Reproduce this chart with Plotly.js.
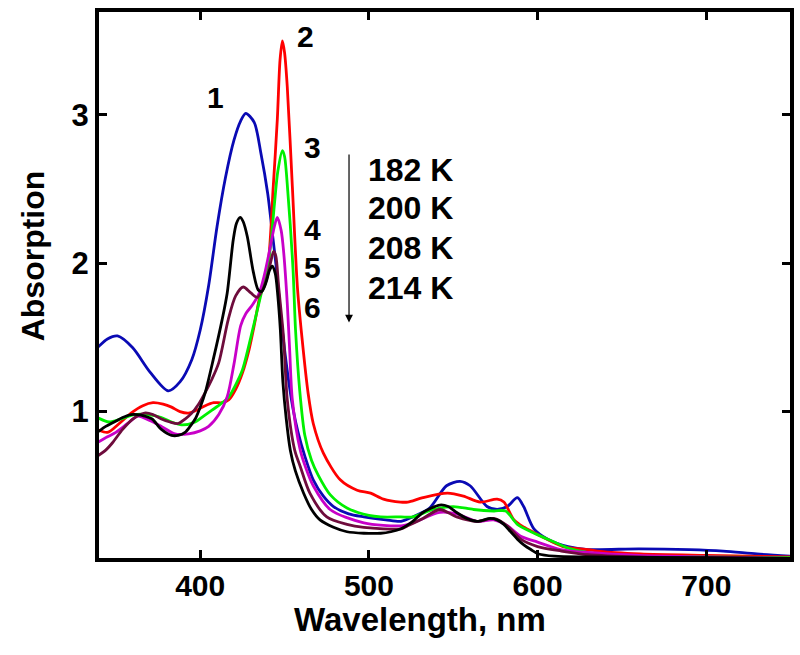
<!DOCTYPE html>
<html>
<head>
<meta charset="utf-8">
<script src="https://cdn.plot.ly/plotly-3.0.1.min.js"></script>
<style>html,body{margin:0;padding:0;background:#fff;}#chart{width:800px;height:655px;}</style>
</head>
<body>
<div id="chart"></div>
<script>
// Curve 1 (blue)
const wl1 = [339,345,351,360,370,381,388,395,400,405,410,415,420,424,427,432,436,440,443,445,448,452,455,458,462,467,473,479,488,497,510,519,526,536,546,554,560,570,576,582,588,591.7,597.8,606,618,630,660,690,710,730,750];
const abs1 = [1.43,1.49,1.51,1.43,1.27,1.14,1.20,1.35,1.55,1.85,2.25,2.58,2.83,2.96,3.01,2.95,2.74,2.47,2.18,1.98,1.62,1.24,1.02,0.86,0.70,0.54,0.43,0.36,0.31,0.29,0.27,0.26,0.29,0.35,0.50,0.53,0.50,0.36,0.34,0.36,0.42,0.36,0.21,0.14,0.09,0.07,0.075,0.07,0.06,0.04,0.025];
// Curve 2 (red)
const wl2 = [339,345,352,359,366,372,378,383,388,393,398,403,408,413,417,421,425,429,432,435.6,439.8,443.3,445.7,447.3,448.7,450,451.6,454.6,457.6,460.3,464,467,473,483,493,501,508.6,518.7,523,532,546.6,556,566,576,580,586,592,602,615,630,637,661,700,750];
const abs2 = [0.88,0.86,0.92,0.99,1.04,1.06,1.05,1.03,1.00,0.99,1.01,1.04,1.06,1.06,1.08,1.15,1.26,1.42,1.58,1.79,1.95,2.52,2.97,3.37,3.50,3.42,3.19,2.52,1.84,1.50,1.12,0.92,0.72,0.54,0.47,0.45,0.41,0.39,0.39,0.42,0.45,0.43,0.39,0.41,0.39,0.27,0.22,0.16,0.09,0.07,0.057,0.04,0.03,0.02];
// Curve 3 (green)
const wl3 = [339,346,353,361,369,377,383,389,397,402,407,412,417,421,425,430,435.6,438,440,442,444,446,448.7,450,452,455,456.5,459,462,466,470,477,487,500,507,519,526,538,550,562,574,581,588,596,606,618,630,645,700,750];
const abs3 = [0.96,0.93,0.95,0.98,0.98,0.96,0.93,0.91,0.93,0.97,1.01,1.05,1.10,1.18,1.28,1.50,1.77,1.88,1.98,2.15,2.40,2.62,2.76,2.72,2.47,1.96,1.55,1.14,0.84,0.67,0.57,0.44,0.35,0.30,0.29,0.29,0.29,0.34,0.36,0.34,0.33,0.33,0.24,0.19,0.14,0.08,0.05,0.03,0.02,0.015];
// Curve 4 (magenta)
const wl4 = [339,345,350,357,363,370,377,385,393,400,405,411,416,420,424,427,431,435,438,441,444,445.7,448,449.5,451.6,453,454.6,459.3,462.3,467,477,497,519,526,542,552,564,574,582,590,600,613.6,630,660,700,750];
const abs4 = [0.79,0.83,0.86,0.92,0.97,0.94,0.90,0.85,0.85,0.87,0.90,0.98,1.10,1.32,1.58,1.66,1.72,1.80,1.92,2.08,2.25,2.31,2.22,2.07,1.73,1.42,1.08,0.74,0.63,0.50,0.34,0.25,0.23,0.25,0.32,0.31,0.26,0.27,0.23,0.16,0.12,0.07,0.05,0.03,0.02,0.01];
// Curve 5 (maroon)
const wl5 = [339,344,348,354,360,367,372,377,382,387,391,395,399,403,407,411,416.6,421,425.5,430,433.8,437,440,442,443.5,444.8,446.5,449.4,451.6,456,459.3,465,475,487,497,519,523,532,542,552,564,574,582,590,600,614,630,660,700,750];
const abs5 = [0.70,0.74,0.79,0.88,0.95,0.99,0.98,0.95,0.93,0.92,0.95,0.99,1.05,1.13,1.22,1.33,1.62,1.78,1.84,1.80,1.77,1.82,1.92,2.02,2.08,2.05,1.84,1.50,1.08,0.74,0.63,0.45,0.29,0.24,0.22,0.21,0.23,0.28,0.34,0.29,0.26,0.28,0.23,0.14,0.09,0.06,0.035,0.02,0.015,0.01];
// Curve 6 (black)
const wl6 = [339,344,349,354,359,363,367,371.5,377,383,387,391,394,397,400,403,407.7,413,416,419.6,421.5,423.7,425.5,427.9,431.5,434.4,436.5,439,441,442.7,444.5,446,447.5,449,451,453.4,456.4,461.3,466,471,479,487,497,507,513,519,526,532,542,547,552,558,564,572,576,580,584,588,592,596,600.6,610,630,700,750];
const abs6 = [0.86,0.90,0.93,0.96,0.98,0.98,0.97,0.95,0.88,0.84,0.84,0.86,0.90,0.95,1.03,1.13,1.35,1.62,1.80,2.16,2.27,2.31,2.28,2.18,1.94,1.82,1.81,1.87,1.95,1.98,1.93,1.78,1.55,1.20,0.95,0.74,0.60,0.45,0.34,0.27,0.22,0.19,0.18,0.18,0.19,0.21,0.26,0.32,0.37,0.36,0.32,0.28,0.26,0.28,0.27,0.24,0.19,0.14,0.10,0.07,0.04,0.025,0.02,0.015,0.01];

const curveLabels = ['1','2','3','4','5','6'];
const tempLabels = ['182 K','200 K','208 K','214 K'];
const xTicks = [400,500,600,700];
const yTicks = [1,2,3];
const xTitle = 'Wavelength, nm';
const yTitle = 'Absorption';

const series = [[wl1,abs1,'#0A0AB4'],[wl2,abs2,'#FF0000'],[wl3,abs3,'#00F000'],[wl4,abs4,'#C800C8'],[wl5,abs5,'#6E0C3C'],[wl6,abs6,'#000000']];
const traces = series.map((s,i)=>({x:s[0],y:s[1],type:'scatter',mode:'lines',name:curveLabels[i],line:{color:s[2],width:2.8,shape:'spline',smoothing:0.8},hoverinfo:'x+y'}));

const F = 'Liberation Sans, Arial, Helvetica, sans-serif';
const curvePos = [[408.9,3.118],[462.2,3.532],[466.3,2.778],[466.3,2.226],[466.3,1.970],[466.3,1.700]];
const tempPos = [[524.9,2.630],[524.9,2.374],[524.9,2.104],[524.9,1.835]];
const annotations = [];
curveLabels.forEach((t,i)=>annotations.push({x:curvePos[i][0],y:curvePos[i][1],xref:'x',yref:'y',text:t,showarrow:false,font:{family:F,size:30,color:'#000',weight:700}}));
tempLabels.forEach((t,i)=>annotations.push({x:tempPos[i][0],y:tempPos[i][1],xref:'x',yref:'y',text:t,showarrow:false,font:{family:F,size:32,color:'#000',weight:700}}));
annotations.push({x:488.2,y:1.60,ax:488.2,ay:2.744,xref:'x',yref:'y',axref:'x',ayref:'y',text:'',showarrow:true,arrowhead:2,arrowsize:1.3,arrowwidth:1.2,arrowcolor:'#000',standoff:0,startstandoff:0});
// axis titles
annotations.push({x:0.4645,y:-0.113,xref:'paper',yref:'paper',xanchor:'center',yanchor:'middle',text:xTitle,showarrow:false,font:{family:F,size:33,color:'#000',weight:700}});
annotations.push({x:-0.0955,y:0.5526,xref:'paper',yref:'paper',xanchor:'center',yanchor:'middle',textangle:-90,text:yTitle,showarrow:false,font:{family:F,size:32,color:'#000',weight:700}});

const layout = {
  width:800,height:655,
  margin:{l:99,r:10,t:12,b:97,pad:0},
  paper_bgcolor:'#fff',plot_bgcolor:'#fff',
  showlegend:false,
  font:{family:F,color:'#000'},
  xaxis:{range:[340,749.6],tickvals:xTicks,ticktext:xTicks.map(String),ticks:'inside',ticklen:8,tickwidth:3,tickcolor:'#000',
    showline:true,linewidth:4,linecolor:'#000',mirror:'ticks',showgrid:false,zeroline:false,ticklabelstandoff:-2,
    tickfont:{family:F,size:30,weight:700,color:'#000'}},
  yaxis:{range:[0.013,3.694],tickvals:yTicks,ticktext:yTicks.map(String),ticks:'inside',ticklen:8,tickwidth:3,tickcolor:'#000',
    showline:true,linewidth:4,linecolor:'#000',mirror:'ticks',showgrid:false,zeroline:false,
    tickfont:{family:F,size:31,weight:700,color:'#000'}},
  annotations:annotations
};
Plotly.newPlot('chart',traces,layout,{displayModeBar:false,staticPlot:true});
</script>
</body>
</html>
